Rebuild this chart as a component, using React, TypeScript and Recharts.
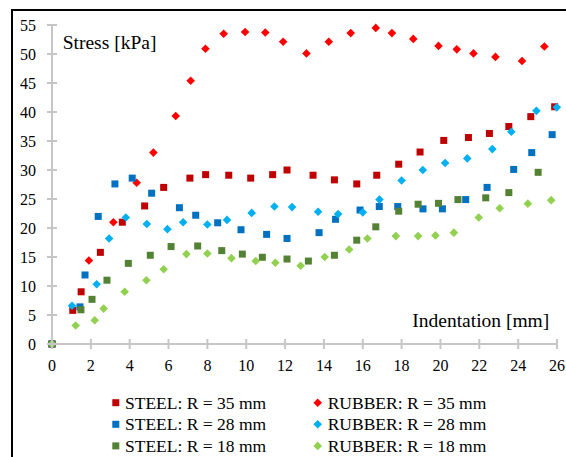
import React from 'react';
import { ScatterChart, Scatter, XAxis, YAxis } from 'recharts';

// indentation [mm], stress [kPa] pairs
const steel35: [number, number][] = [
  [0, 0], [1.07, 5.8], [1.5, 9.0], [2.49, 15.8], [3.62, 21.0], [4.77, 23.8], [5.75, 27.0],
  [7.1, 28.6], [7.91, 29.2], [9.1, 29.1], [10.23, 28.6], [11.36, 29.2], [12.1, 30.0],
  [13.44, 29.1], [14.54, 28.3], [15.69, 27.6], [16.72, 29.1], [17.85, 31.0], [18.95, 33.1],
  [20.17, 35.1], [21.44, 35.6], [22.52, 36.3], [23.52, 37.5], [24.65, 39.2], [25.88, 40.9],
];
const rubber35: [number, number][] = [
  [0, 0], [1.9, 14.4], [3.16, 21.0], [4.36, 27.8], [5.22, 33.0], [6.37, 39.3], [7.14, 45.4],
  [7.9, 50.9], [8.84, 53.5], [9.94, 53.8], [10.98, 53.7], [11.9, 52.1], [13.1, 50.1],
  [14.25, 52.1], [15.38, 53.6], [16.67, 54.5], [17.5, 53.6], [18.6, 52.6], [19.9, 51.4],
  [20.84, 50.8], [21.7, 50.1], [22.83, 49.5], [24.2, 48.8], [25.35, 51.3],
];
const steel28: [number, number][] = [
  [0, 0], [1.44, 6.4], [1.7, 11.9], [2.38, 22.0], [3.24, 27.6], [4.13, 28.6], [5.13, 26.0],
  [6.56, 23.5], [7.4, 22.2], [8.53, 20.9], [9.73, 19.7], [11.05, 18.9], [12.1, 18.2],
  [13.75, 19.2], [14.6, 21.5], [15.86, 23.1], [16.85, 23.7], [17.8, 23.7], [19.1, 23.3],
  [20.1, 23.3], [21.3, 24.9], [22.4, 27.0], [23.77, 30.1], [24.7, 33.0], [25.75, 36.1],
];
const rubber28: [number, number][] = [
  [0, 0], [1.03, 6.6], [2.3, 10.3], [2.94, 18.2], [3.8, 21.8], [4.88, 20.7], [5.94, 19.8],
  [6.75, 21.0], [8.0, 20.6], [9.01, 21.4], [10.28, 22.6], [11.45, 23.7], [12.36, 23.6],
  [13.7, 22.8], [14.73, 22.4], [16.0, 22.7], [16.86, 24.9], [18.0, 28.2], [19.09, 30.0],
  [20.24, 31.2], [21.38, 32.0], [22.67, 33.6], [23.65, 36.6], [24.94, 40.2], [25.99, 40.8],
];
const steel18: [number, number][] = [
  [0, 0], [1.49, 5.9], [2.06, 7.7], [2.83, 11.0], [3.93, 13.9], [5.06, 15.3], [6.13, 16.8],
  [7.5, 16.9], [8.74, 16.1], [9.8, 15.5], [10.83, 14.95], [12.1, 14.65], [13.2, 14.3],
  [14.54, 15.3], [15.69, 17.9], [16.67, 20.2], [17.85, 22.9], [18.85, 24.1], [19.9, 24.25],
  [20.9, 24.9], [22.33, 25.2], [23.52, 26.1], [25.03, 29.6],
];
const rubber18: [number, number][] = [
  [0, 0], [1.22, 3.2], [2.2, 4.1], [2.66, 6.1], [3.74, 9.0], [4.86, 11.0], [5.75, 12.9],
  [6.92, 15.5], [8.0, 15.6], [9.24, 14.8], [10.49, 14.3], [11.5, 14.0], [12.8, 13.5],
  [14.04, 15.0], [15.3, 16.3], [16.24, 18.2], [17.7, 18.6], [18.85, 18.6], [19.74, 18.7],
  [20.69, 19.2], [21.97, 21.8], [23.05, 23.4], [24.5, 24.2], [25.7, 24.8],
];

const xTicks = [0, 2, 4, 6, 8, 10, 12, 14, 16, 18, 20, 22, 24, 26];
const yTicks = [0, 5, 10, 15, 20, 25, 30, 35, 40, 45, 50, 55];

const series = [
  { name: 'STEEL: R = 35 mm', data: steel35, color: '#C00000', shape: 'square' },
  { name: 'RUBBER: R = 35 mm', data: rubber35, color: '#FF0000', shape: 'diamond' },
  { name: 'STEEL: R = 28 mm', data: steel28, color: '#0070C0', shape: 'square' },
  { name: 'RUBBER: R = 28 mm', data: rubber28, color: '#00B0F0', shape: 'diamond' },
  { name: 'STEEL: R = 18 mm', data: steel18, color: '#548235', shape: 'square' },
  { name: 'RUBBER: R = 18 mm', data: rubber18, color: '#92D050', shape: 'diamond' },
];

const FONT = "'Liberation Serif', 'Times New Roman', serif";
const AXIS = '#c6c6c6';

const marker = (shape: string, color: string, cx: number, cy: number) =>
  shape === 'square' ? (
    <rect x={cx - 3.5} y={cy - 3.5} width={7} height={7} fill={color} />
  ) : (
    <polygon
      points={`${cx},${cy - 4.3} ${cx + 4.3},${cy} ${cx},${cy + 4.3} ${cx - 4.3},${cy}`}
      fill={color}
    />
  );

const XTick = (props: any) => {
  const { x, y, payload } = props;
  return (
    <g>
      <line x1={x} x2={x} y1={y - 5} y2={y + 5} stroke={AXIS} strokeWidth={2} />
      <text x={x} y={y + 27} textAnchor="middle" style={{ fontFamily: FONT, fontSize: 16 }} fill="#000">
        {payload.value}
      </text>
    </g>
  );
};

const YTick = (props: any) => {
  const { x, y, payload } = props;
  return (
    <g>
      <line x1={x - 5} x2={x + 5} y1={y} y2={y} stroke={AXIS} strokeWidth={2} />
      <text x={x - 16} y={y + 5.5} textAnchor="end" style={{ fontFamily: FONT, fontSize: 16 }} fill="#000">
        {payload.value}
      </text>
    </g>
  );
};

export default function App() {
  return (
    <div
      style={{
        position: 'absolute',
        left: 0,
        top: 0,
        width: 566,
        height: 457,
        background: '#fff',
        fontFamily: FONT,
      }}
    >
      <style>{'html{overflow:hidden}'}</style>
      <ScatterChart width={566} height={380} margin={{ top: 25, right: 9, left: 12, bottom: 0 }}>
        <XAxis
          type="number"
          dataKey="x"
          domain={[0, 26]}
          ticks={xTicks}
          interval={0}
          height={36}
          tickSize={0}
          tickMargin={0}
          tickLine={false}
          axisLine={{ stroke: AXIS, strokeWidth: 2 }}
          tick={<XTick />}
        />
        <YAxis
          type="number"
          dataKey="y"
          domain={[0, 55]}
          ticks={yTicks}
          interval={0}
          width={40}
          tickSize={0}
          tickMargin={0}
          tickLine={false}
          axisLine={{ stroke: AXIS, strokeWidth: 2 }}
          tick={<YTick />}
        />
        {series.map((s) => (
          <Scatter
            key={s.name}
            name={s.name}
            data={s.data.map(([x, y]) => ({ x, y }))}
            fill={s.color}
            isAnimationActive={false}
            shape={(p: any) => marker(s.shape, s.color, p.cx, p.cy)}
          />
        ))}
      </ScatterChart>

      <svg
        width={566}
        height={457}
        style={{ position: 'absolute', left: 0, top: 0, pointerEvents: 'none', fontFamily: FONT }}
      >
        <path d="M12,457 L12,10 L566,10" fill="none" stroke="#000" strokeWidth={2} />
        <text x={62.7} y={48.5} style={{ fontSize: 19.5 }} fill="#000">
          Stress [kPa]
        </text>
        <text x={549.3} y={326.7} textAnchor="end" style={{ fontSize: 19.5 }} fill="#000">
          Indentation [mm]
        </text>
        {series.map((s, i) => {
          const col = i % 2;
          const row = Math.floor(i / 2);
          const mx = col === 0 ? 115.8 : 317.7;
          const tx = col === 0 ? 125 : 327.7;
          const base = 408.5 + row * 21.6;
          return (
            <g key={s.name}>
              {marker(s.shape, s.color, mx, base - 5.8)}
              <text x={tx} y={base} style={{ fontSize: 17.5 }} fill="#000">
                {s.name}
              </text>
            </g>
          );
        })}
      </svg>
    </div>
  );
}
